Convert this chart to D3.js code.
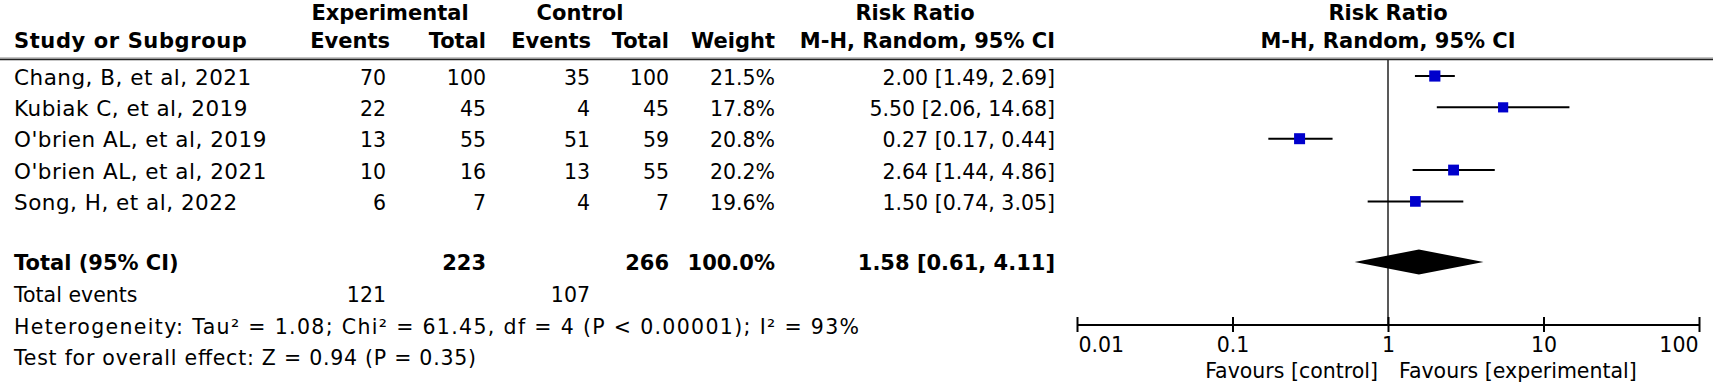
<!DOCTYPE html>
<html><head><meta charset="utf-8">
<script src="https://cdn.jsdelivr.net/npm/d3@7"></script>
<style>
body{margin:0;background:#fff}
svg{display:block}
text{font-family:"DejaVu Sans",sans-serif;font-size:20.5px;fill:#000}
</style>
</head><body>
<svg id="chart" width="1713" height="386"></svg>
<script>
// ---- data ----
const studies = ["Chang, B, et al, 2021", "Kubiak C, et al, 2019", "O'brien AL, et al, 2019", "O'brien AL, et al, 2021", "Song, H, et al, 2022"];
const expEvents = [70, 22, 13, 10, 6];
const expTotal = [100, 45, 55, 16, 7];
const ctrlEvents = [35, 4, 51, 13, 4];
const ctrlTotal = [100, 45, 59, 55, 7];
const weights = [21.5, 17.8, 20.8, 20.2, 19.6];
const rr = [2.00, 5.50, 0.27, 2.64, 1.50];
const rrLow = [1.49, 2.06, 0.17, 1.44, 0.74];
const rrHigh = [2.69, 14.68, 0.44, 4.86, 3.05];
const pooled = [1.58, 0.61, 4.11];           // estimate, lower, upper
const totals = [223, 266, 100.0];            // exp total, ctrl total, weight
const totalEvents = [121, 107];
const axisTicks = [0.01, 0.1, 1, 10, 100];
const axisTickLabels = ["0.01", "0.1", "1", "10", "100"];
const heterogeneity = "Heterogeneity: Tau² = 1.08; Chi² = 61.45, df = 4 (P < 0.00001); I² = 93%";
const overall = "Test for overall effect: Z = 0.94 (P = 0.35)";
const favourLabels = ["Favours [control]", "Favours [experimental]"];

// ---- layout ----
const svg = d3.select("#chart");
const x = d3.scaleLog().domain([0.01, 100]).range([1077, 1699]);
const rowY = d3.scaleLinear().domain([0, studies.length - 1]).range([76, 201.4]);
const box = d3.scaleSqrt().domain([0, 20.8]).range([0, 11]);
const col = {expEv: 386, expTot: 486, ctlEv: 590, ctlTot: 669, weight: 775, rr: 1055};
const totalY = 262, axisY = 324.5, headTop = 20, headBot = 47.5, lineY = 59;
const fmt2 = d3.format(".2f");
const BOLD = "21px";

function txt(s, xx, yy, anchor, bold) {
  const t = svg.append("text").attr("x", xx).attr("y", yy)
    .attr("text-anchor", anchor || "start")
    .style("font-weight", bold ? "bold" : "normal").text(s);
  if (bold) t.style("font-size", BOLD);
  return t;
}

// headers
txt("Experimental", 390, headTop, "middle", true);
txt("Control", 580, headTop, "middle", true);
txt("Risk Ratio", 915, headTop, "middle", true);
txt("Risk Ratio", x(1), headTop, "middle", true);
txt("Study or Subgroup", 14, headBot, "start", true).style("letter-spacing", "0.6px");
txt("Events", col.expEv + 4, headBot, "end", true);
txt("Total", col.expTot, headBot, "end", true);
txt("Events", col.ctlEv + 1, headBot, "end", true);
txt("Total", col.ctlTot, headBot, "end", true);
txt("Weight", col.weight, headBot, "end", true);
txt("M-H, Random, 95% CI", col.rr, headBot, "end", true);
txt("M-H, Random, 95% CI", x(1), headBot, "middle", true);

svg.append("line").attr("x1", 0).attr("x2", 1713).attr("y1", lineY - 1).attr("y2", lineY - 1)
  .attr("stroke", "#888").attr("stroke-width", 1);
svg.append("line").attr("x1", 0).attr("x2", 1713).attr("y1", lineY + 0.5).attr("y2", lineY + 0.5)
  .attr("stroke", "#222").attr("stroke-width", 1.5);

// study rows
studies.forEach((s, i) => {
  const yb = rowY(i) + 8.5;
  txt(s, 14, yb).style("font-size", "21.5px").style("letter-spacing", "0.5px");
  txt(expEvents[i], col.expEv, yb, "end");
  txt(expTotal[i], col.expTot, yb, "end");
  txt(ctrlEvents[i], col.ctlEv, yb, "end");
  txt(ctrlTotal[i], col.ctlTot, yb, "end");
  txt(weights[i].toFixed(1) + "%", col.weight, yb, "end");
  txt(`${fmt2(rr[i])} [${fmt2(rrLow[i])}, ${fmt2(rrHigh[i])}]`, col.rr, yb, "end");
});

// total rows
const tb = totalY + 8;
txt("Total (95% CI)", 14, tb, "start", true);
txt(totals[0], col.expTot, tb, "end", true);
txt(totals[1], col.ctlTot, tb, "end", true);
txt(totals[2].toFixed(1) + "%", col.weight, tb, "end", true);
txt(`${fmt2(pooled[0])} [${fmt2(pooled[1])}, ${fmt2(pooled[2])}]`, col.rr, tb, "end", true);
txt("Total events", 14, 302);
txt(totalEvents[0], col.expEv, 302, "end");
txt(totalEvents[1], col.ctlEv, 302, "end");
txt(heterogeneity, 14, 334).attr("textLength", 845).attr("lengthAdjust", "spacing");
txt(overall, 14, 365).attr("textLength", 462).attr("lengthAdjust", "spacing");

// plot: null line
svg.append("line").attr("x1", x(1)).attr("x2", x(1)).attr("y1", lineY + 1).attr("y2", axisY)
  .attr("stroke", "#222").attr("stroke-width", 1.5);

// CIs and boxes
const g = svg.append("g");
g.selectAll("line.ci").data(studies).join("line").attr("class", "ci")
  .attr("x1", (d, i) => x(rrLow[i])).attr("x2", (d, i) => x(rrHigh[i]))
  .attr("y1", (d, i) => rowY(i)).attr("y2", (d, i) => rowY(i))
  .attr("stroke", "#000").attr("stroke-width", 2);
g.selectAll("rect.box").data(studies).join("rect").attr("class", "box")
  .attr("x", (d, i) => x(rr[i]) - box(weights[i]) / 2)
  .attr("y", (d, i) => rowY(i) - box(weights[i]) / 2)
  .attr("width", (d, i) => box(weights[i]))
  .attr("height", (d, i) => box(weights[i]))
  .attr("fill", "#0000cc");

// diamond
const dh = 12.5;
svg.append("path")
  .attr("d", d3.line()([[x(pooled[1]), totalY], [x(pooled[0]), totalY - dh], [x(pooled[2]), totalY], [x(pooled[0]), totalY + dh]]) + "Z")
  .attr("fill", "#000");

// axis
const axis = d3.axisBottom(x).tickValues(axisTicks).tickFormat((d, i) => axisTickLabels[i]).tickSizeOuter(0);
const ag = svg.append("g").attr("transform", `translate(0,${axisY})`).call(axis);
ag.select(".domain").attr("stroke", "#000").attr("stroke-width", 2);
ag.selectAll(".tick line").attr("y1", -7.5).attr("y2", 7.5).attr("stroke", "#000").attr("stroke-width", 2);
ag.selectAll(".tick text").attr("y", 27.5).attr("dy", null)
  .style("font-family", '"DejaVu Sans",sans-serif').style("font-size", "20.5px").attr("fill", "#000")
  .attr("text-anchor", (d, i) => i === 0 ? "start" : (i === axisTicks.length - 1 ? "end" : "middle"))
  .attr("dx", (d, i) => i === 0 ? 1 : (i === axisTicks.length - 1 ? -1 : 0));

txt(favourLabels[0], x(1) - 10, 378, "end");
txt(favourLabels[1], x(1) + 11, 378, "start");
</script>
</body></html>
